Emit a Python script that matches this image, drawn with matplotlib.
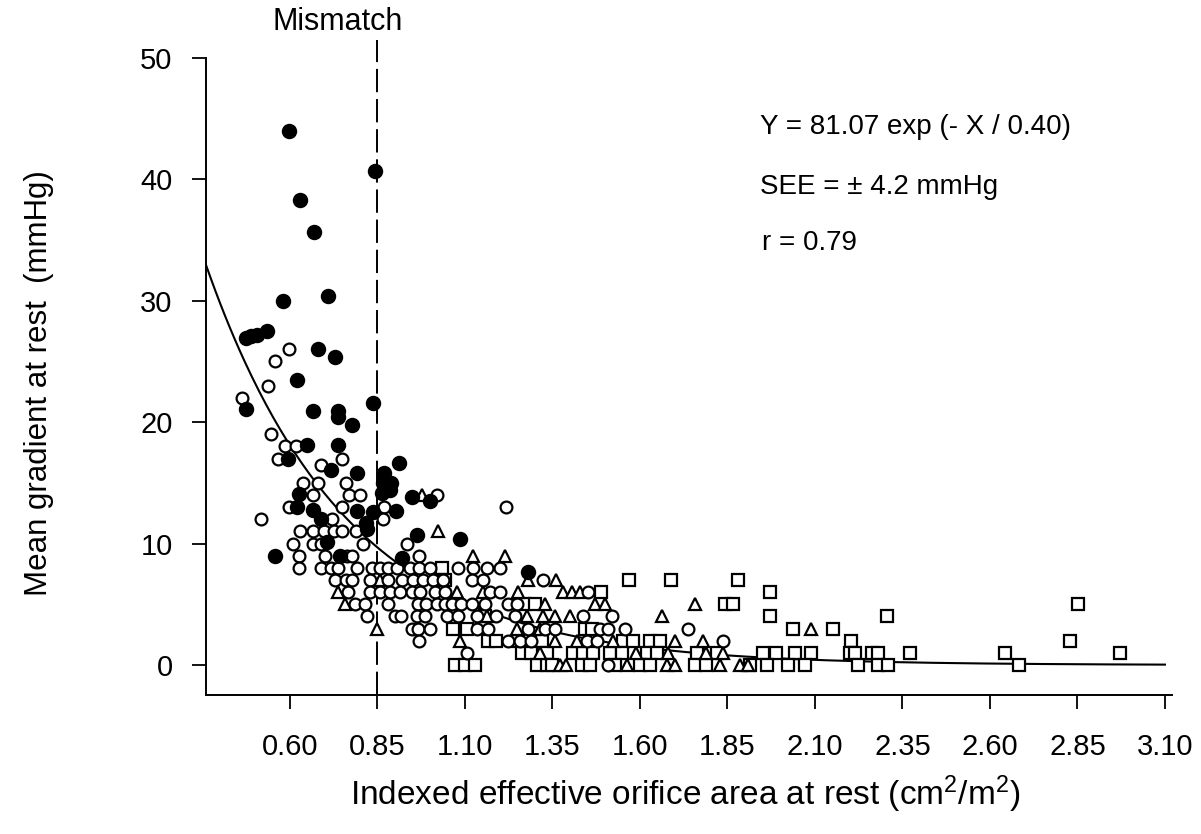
import numpy as np
import matplotlib
matplotlib.use("Agg")
import matplotlib.pyplot as plt

plt.rcParams['font.family'] = ['Liberation Sans', 'DejaVu Sans']
plt.rcParams['mathtext.fontset'] = 'custom'
plt.rcParams['mathtext.rm'] = 'Liberation Sans'
plt.rcParams['mathtext.it'] = 'Liberation Sans:italic'

# ---- data ----
x_ticks = [0.60, 0.85, 1.10, 1.35, 1.60, 1.85, 2.10, 2.35, 2.60, 2.85, 3.10]
x_tick_labels = ["0.60", "0.85", "1.10", "1.35", "1.60", "1.85", "2.10", "2.35", "2.60", "2.85", "3.10"]
y_ticks = [0, 10, 20, 30, 40, 50]

fit_a = 81.07
fit_b = 0.40
mismatch_x = 0.85

filled_pts = [(0.597, 44.0), (0.843, 40.7), (0.629, 38.3), (0.669, 35.7), (0.709, 30.4),
              (0.580, 30.0), (0.474, 26.9), (0.490, 27.1), (0.505, 27.2), (0.535, 27.5),
              (0.679, 26.0), (0.729, 25.4), (0.619, 23.5), (0.474, 21.1), (0.838, 21.6),
              (0.667, 20.9), (0.738, 20.9), (0.738, 20.4), (0.777, 19.8), (0.648, 18.1),
              (0.738, 18.1), (0.595, 17.0), (0.717, 16.1), (0.791, 15.8), (0.870, 15.8),
              (0.912, 16.6), (0.890, 15.0), (0.867, 15.0), (0.862, 14.2), (0.885, 14.4),
              (0.627, 14.1), (0.619, 13.0), (0.667, 12.8), (0.690, 12.0), (0.791, 12.7),
              (0.838, 12.6), (0.903, 12.7), (0.950, 13.8), (1.000, 13.5), (0.816, 11.7),
              (0.819, 11.2), (0.705, 10.1), (0.557, 9.0), (0.962, 10.7), (0.919, 8.8),
              (0.743, 9.0), (1.086, 10.4), (1.281, 7.7)]

open_pts = [(0.598, 26), (0.557, 25), (0.536, 23), (0.464, 22), (0.545, 19),
            (0.586, 18), (0.617, 18), (0.566, 17), (0.749, 17), (0.689, 16.5),
            (0.637, 15), (0.679, 15), (0.760, 15),
            (0.665, 14), (0.769, 14), (0.800, 14), (1.019, 14),
            (0.597, 13), (0.749, 13), (0.870, 13), (1.218, 13),
            (0.517, 12), (0.719, 12), (0.867, 12),
            (0.629, 11), (0.667, 11), (0.697, 11), (0.726, 11), (0.748, 11), (0.788, 11),
            (0.608, 10), (0.667, 10), (0.690, 10), (0.809, 10), (0.933, 10),
            (0.627, 9), (0.700, 9), (0.762, 9), (0.776, 9), (0.969, 9),
            (0.627, 8), (0.690, 8), (0.716, 8), (0.738, 8), (0.791, 8), (0.835, 8),
            (0.857, 8), (0.881, 8), (0.905, 8), (0.943, 8), (0.969, 8), (1.000, 8),
            (1.081, 8), (1.124, 8), (1.162, 8), (1.200, 8),
            (0.729, 7), (0.759, 7), (0.776, 7), (0.829, 7), (0.881, 7), (0.919, 7),
            (0.952, 7), (0.981, 7), (1.010, 7), (1.038, 7), (1.119, 7), (1.152, 7), (1.322, 7),
            (0.767, 6), (0.829, 6), (0.857, 6), (0.886, 6), (0.914, 6), (0.948, 6),
            (0.971, 6), (1.014, 6), (1.043, 6), (1.171, 6), (1.200, 6), (1.452, 6),
            (0.786, 5), (0.814, 5), (0.881, 5), (0.967, 5), (0.990, 5), (1.019, 5),
            (1.043, 5), (1.062, 5), (1.090, 5), (1.119, 5), (1.157, 5), (1.224, 5), (1.248, 5),
            (0.819, 4), (0.900, 4), (0.917, 4), (0.962, 4), (0.985, 4), (1.048, 4),
            (1.081, 4), (1.133, 4), (1.190, 4), (1.243, 4), (1.438, 4), (1.519, 4),
            (0.948, 3), (0.967, 3), (1.000, 3), (1.133, 3), (1.167, 3), (1.281, 3),
            (1.329, 3), (1.357, 3), (1.486, 3), (1.510, 3), (1.557, 3), (1.738, 3),
            (0.969, 2), (1.224, 2), (1.257, 2), (1.290, 2), (1.448, 2), (1.476, 2), (1.838, 2),
            (1.107, 1), (1.510, 0)]

triangle_pts = [(0.976, 14), (1.024, 11), (1.124, 9), (1.214, 9),
                (0.857, 7), (1.280, 7), (1.360, 7),
                (0.738, 6), (1.076, 6), (1.152, 6), (1.252, 6), (1.381, 6), (1.405, 6), (1.429, 6),
                (0.757, 5), (1.329, 5), (1.471, 5), (1.500, 5), (1.757, 5),
                (1.162, 4), (1.276, 4), (1.324, 4), (1.357, 4), (1.400, 4), (1.662, 4),
                (0.848, 3), (1.248, 3), (1.314, 3), (2.090, 3),
                (1.086, 2), (1.357, 2), (1.419, 2), (1.524, 2), (1.700, 2), (1.781, 2),
                (1.314, 1), (1.590, 1), (1.681, 1), (1.790, 1), (1.838, 1),
                (1.371, 0), (1.390, 0), (1.562, 0), (1.676, 0), (1.700, 0), (1.829, 0),
                (1.886, 0), (1.910, 0)]

square_pts = [(1.033, 8), (1.043, 7), (1.569, 7), (1.689, 7), (1.881, 7),
              (1.490, 6), (1.971, 6),
              (1.271, 5), (1.300, 5), (1.843, 5), (1.867, 5), (2.852, 5),
              (1.157, 4), (1.971, 4), (2.305, 4),
              (1.067, 3), (1.105, 3), (1.443, 3), (1.462, 3), (2.038, 3), (2.152, 3),
              (1.167, 2), (1.190, 2), (1.252, 2), (1.319, 2), (1.552, 2), (1.581, 2),
              (1.629, 2), (1.657, 2), (2.204, 2), (2.829, 2),
              (1.262, 1), (1.290, 1), (1.333, 1), (1.410, 1), (1.438, 1), (1.467, 1),
              (1.514, 1), (1.548, 1), (1.619, 1), (1.648, 1), (1.762, 1), (1.819, 1),
              (1.952, 1), (1.990, 1), (2.043, 1), (2.090, 1), (2.200, 1), (2.214, 1),
              (2.262, 1), (2.281, 1), (2.371, 1), (2.643, 1), (2.971, 1),
              (1.071, 0), (1.100, 0), (1.129, 0), (1.305, 0), (1.333, 0), (1.348, 0),
              (1.433, 0), (1.457, 0), (1.529, 0), (1.600, 0), (1.629, 0), (1.757, 0),
              (1.790, 0), (1.914, 0), (1.962, 0), (2.024, 0), (2.071, 0), (2.224, 0),
              (2.281, 0), (2.310, 0), (2.684, 0)]

# ---- figure ----
fig = plt.figure(figsize=(12.01, 8.34), dpi=100)
ax = fig.add_axes([0.1715, 0.1662, 0.8043, 0.7643])
ax.set_xlim(0.36, 3.12)
ax.set_ylim(-2.5, 50)

def xy(pts):
    a = np.array(pts, dtype=float)
    return a[:, 0], a[:, 1]

lw = 1.6
sx, sy = xy(square_pts)
ax.plot(sx, sy, linestyle='none', marker='s', markersize=8.5, markerfacecolor='white',
        markeredgecolor='black', markeredgewidth=lw, zorder=3)
tx, ty = xy(triangle_pts)
ax.plot(tx, ty, linestyle='none', marker='^', markersize=9, markerfacecolor='white',
        markeredgecolor='black', markeredgewidth=lw, zorder=3)
ox, oy = xy(open_pts)
ax.plot(ox, oy, linestyle='none', marker='o', markersize=8.5, markerfacecolor='white',
        markeredgecolor='black', markeredgewidth=lw, zorder=3)
fx, fy = xy(filled_pts)
ax.plot(fx, fy, linestyle='none', marker='o', markersize=9.5, markerfacecolor='black',
        markeredgecolor='black', markeredgewidth=lw, zorder=4)

# fitted curve
xc = np.linspace(0.36, 3.10, 400)
ax.plot(xc, fit_a * np.exp(-xc / fit_b), color='black', linewidth=1.5, zorder=2)

# mismatch dashed line
ax.plot([mismatch_x, mismatch_x], [-2.5, 51.5], color='black', linewidth=1.4,
        dashes=(12, 3.5), clip_on=False, zorder=1)
ax.text(0.737, 53.0, "Mismatch", ha='center', va='center', fontsize=22, clip_on=False)

# annotations
ax.text(1.943, 44.3, "Y = 81.07 exp (- X / 0.40)", ha='left', va='center', fontsize=20)
ax.text(1.943, 39.4, "SEE = \u00b1 4.2 mmHg", ha='left', va='center', fontsize=20)
ax.text(1.950, 34.8, "r = 0.79", ha='left', va='center', fontsize=20)

# axes styling
for s in ['top', 'right']:
    ax.spines[s].set_visible(False)
ax.spines['left'].set_bounds(-2.5, 50)
ax.spines['bottom'].set_bounds(0.36, 3.12)
for s in ['left', 'bottom']:
    ax.spines[s].set_linewidth(1.4)

ax.set_xticks(x_ticks)
ax.set_xticklabels(x_tick_labels)
ax.set_yticks(y_ticks)
ax.tick_params(axis='both', direction='out', length=10, width=1.3, labelsize=21)
ax.tick_params(axis='x', pad=17)
ax.tick_params(axis='y', pad=14)

ax.set_xlabel("Indexed effective orifice area at rest (cm$^2$/m$^2$)", fontsize=24)
ax.xaxis.set_label_coords(0.496, -0.122)
ax.set_ylabel("Mean gradient at rest  (mmHg)", fontsize=22.5)
ax.yaxis.set_label_coords(-0.157, 0.49)

fig.savefig("out.png", dpi=100)
